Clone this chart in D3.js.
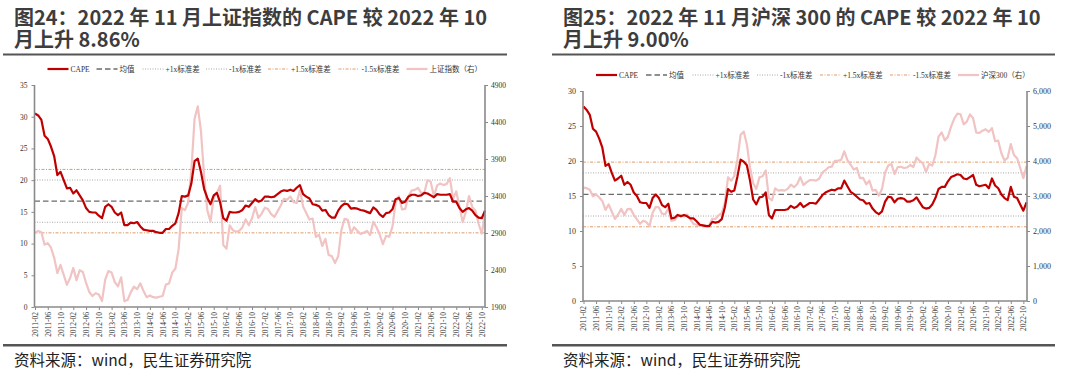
<!DOCTYPE html>
<html><head><meta charset="utf-8">
<script src="https://cdn.jsdelivr.net/npm/d3@7"></script>
<style>html,body{margin:0;padding:0;background:#fff;} svg{display:block;}</style>
</head><body>
<svg id="c" width="1080" height="376"></svg>
<script>
// ---------- DATA ----------
const months = [];
for (let y = 2011; y <= 2022; y++) for (let m = 1; m <= 12; m++) {
  if ((y === 2011 && m < 2) || (y === 2022 && m > 11)) continue;
  months.push(y + "-" + String(m).padStart(2, "0"));
}
const tickMonths = months.filter((d, i) => i % 4 === 0);

const capeSH = [30.5,30.2,29.5,27.0,26.5,25.3,23.8,20.8,21.3,20.0,18.7,18.8,
17.9,18.4,17.6,16.8,15.6,15.0,14.9,14.9,14.4,14.0,15.8,16.2,
15.8,14.9,14.5,14.9,12.9,12.9,13.3,13.2,13.4,12.7,12.2,12.1,
12.0,12.0,11.8,11.7,11.7,12.3,12.3,12.8,13.2,14.8,17.5,17.4,
17.6,19.5,23.0,23.4,21.3,18.6,17.2,16.2,17.6,18.0,16.5,14.0,
13.6,15.0,14.9,14.9,15.0,15.3,16.0,15.8,16.4,17.0,16.6,16.8,
17.4,17.4,17.3,17.4,17.8,18.2,18.4,18.3,18.5,18.3,18.8,19.2,
17.8,17.4,17.1,16.2,16.1,15.9,15.2,15.3,14.5,14.1,14.1,15.2,
15.9,16.3,16.2,15.5,15.6,15.5,15.3,15.2,15.0,14.8,15.7,15.3,
14.6,14.2,14.8,14.9,15.4,17.0,17.2,16.4,16.6,17.4,17.7,17.7,
17.5,17.6,18.0,17.9,17.6,17.3,17.8,17.7,17.7,17.7,17.8,16.6,
16.6,15.6,15.0,15.4,15.6,15.2,14.5,14.1,14.0,15.2];

const indexSH = [2905,2928,2911,2743,2762,2701,2568,2359,2468,2333,2199,
2292,2428,2263,2397,2373,2225,2103,2048,2086,2069,1980,2269,
2385,2366,2237,2178,2301,1979,1994,2098,2175,2141,2220,2116,
2033,2056,2033,2026,2039,2048,2202,2217,2364,2420,2683,3235,
3210,3310,3748,4442,4612,4277,3664,3206,3053,3383,3445,3539,
2738,2688,3004,2938,2917,2930,2979,3085,3005,3100,3250,3104,
3159,3242,3223,3155,3117,3192,3273,3361,3349,3393,3317,3307,
3481,3259,3169,3082,3095,2847,2876,2725,2821,2603,2588,2494,
2585,2941,3091,3078,2899,2979,2932,2886,2905,2929,2872,3050,
2977,2880,2750,2860,2852,2985,3310,3396,3218,3225,3392,3473,
3483,3509,3442,3447,3615,3591,3397,3544,3568,3547,3564,3640,
3361,3462,3253,3047,3186,3399,3253,3202,3024,2893,3151];

const capeHS = [27.8,27.3,26.6,24.6,24.2,23.2,21.9,19.3,19.6,18.3,17.2,17.5,
17.9,16.6,17.0,16.6,15.5,15.0,14.1,14.0,14.0,13.3,14.7,15.2,
14.7,13.7,13.4,13.9,11.8,11.9,12.3,12.1,12.3,12.1,11.8,11.8,
11.4,10.9,10.8,10.7,10.7,11.3,11.2,11.3,11.7,13.4,16.0,15.6,
15.8,17.8,20.2,19.9,19.4,17.2,14.5,13.8,14.8,14.9,15.5,12.3,
11.8,13.0,13.0,13.0,13.0,13.1,13.6,13.3,13.5,14.0,13.4,13.7,
14.0,14.0,13.9,14.5,15.1,15.5,15.7,15.9,15.8,16.1,16.1,17.2,
16.4,15.6,15.3,14.9,14.5,14.4,13.9,14.0,13.2,12.7,12.4,12.8,
14.2,14.9,14.8,14.1,14.6,14.7,14.6,14.2,14.2,14.4,14.8,14.1,
13.4,13.2,13.3,13.8,14.7,16.0,16.3,16.3,17.1,17.7,17.9,18.1,
18.0,17.5,17.4,17.7,18.0,16.6,16.4,16.5,16.6,16.1,17.5,16.5,
16.1,15.2,14.7,14.4,16.3,14.9,14.7,13.8,12.9,14.1];

const indexHS = [3239,3223,3180,2991,3044,2957,2857,2605,2757,2557,2346,
2464,2635,2454,2627,2632,2461,2333,2205,2293,2254,2139,2523,
2688,2674,2496,2478,2647,2287,2315,2410,2460,2410,2473,2331,
2202,2179,2146,2158,2157,2165,2351,2338,2450,2508,2808,3533,
3435,3572,4051,4749,4840,4473,3816,3366,3202,3534,3566,3731,
2946,2877,3218,3156,3170,3154,3203,3327,3253,3336,3538,3311,
3387,3453,3456,3439,3493,3666,3737,3822,3837,4006,4006,4031,
4275,4023,3899,3756,3802,3510,3517,3335,3438,3154,3173,3011,
3202,3670,3873,3913,3630,3826,3836,3799,3815,3886,3829,4097,
4003,3940,3686,3913,3868,4164,4695,4816,4587,4695,4980,5212,
5352,5336,5049,5124,5332,5224,4812,4806,4866,4908,4832,4940,
4564,4581,4223,4016,4091,4485,4170,4078,3805,3508,3854];

// mean, +1x, -1x, +1.5x, -1.5x
const refSH = [16.69, 20.02, 13.36, 21.69, 11.69];
const refHS = [15.22, 18.30, 12.14, 19.84, 10.60];

const leftTicksSH = [0,5,10,15,20,25,30,35];
const rightTicksSH = [1900,2400,2900,3400,3900,4400,4900];
const leftTicksHS = [0,5,10,15,20,25,30];
const rightTicksHS = [0,1000,2000,3000,4000,5000,6000];

const legendSH = ["CAPE","均值","+1x标准差","-1x标准差","+1.5x标准差","-1.5x标准差","上证指数（右）"];
const legendHS = ["CAPE","均值","+1x标准差","-1x标准差","+1.5x标准差","-1.5x标准差","沪深300（右）"];

const titleSH = ["图24：2022 年 11 月上证指数的 CAPE 较 2022 年 10", "月上升 8.86%"];
const titleHS = ["图25：2022 年 11 月沪深 300 的 CAPE 较 2022 年 10", "月上升 9.00%"];
const sourceText = "资料来源：wind，民生证券研究院";

// ---------- STYLES ----------
const RED = "#c00000", PINK = "#f1c3c3", MEAN = "#6b6b6b", DOT = "#a8a8a8", ORANGE = "#e09a66";
const refStyles = [
  {stroke: MEAN, w: 1.3, dash: "5.5,3"},
  {stroke: DOT, w: 1, dash: "1,1.5"},
  {stroke: DOT, w: 1, dash: "1,1.5"},
  {stroke: ORANGE, w: 1, dash: "3,1.5,1,1.5"},
  {stroke: ORANGE, w: 1, dash: "3,1.5,1,1.5"}
];
const legendStyles = [
  {stroke: RED, w: 2.2, dash: null},
  refStyles[0], refStyles[1], refStyles[2], refStyles[3], refStyles[4],
  {stroke: PINK, w: 2.2, dash: null}
];

const svg = d3.select("#c");
const SERIF = "'Liberation Serif','Times New Roman','Noto Sans CJK SC',serif";
const CJK = "'Noto Sans CJK SC','Noto Sans',sans-serif";

function drawPanel(cfg) {
  const g = svg.append("g");
  // title (two separate lines)
  cfg.title.forEach((s, i) => g.append("text").attr("x", cfg.titleX).attr("y", 25 + i * 21.5)
    .attr("font-family", CJK).attr("font-weight", "bold")
    .attr("font-size", 20).attr("fill", "#3d3d3d").text(s));
  g.append("line").attr("x1", cfg.ruleX0).attr("x2", cfg.ruleX1).attr("y1", 54.5).attr("y2", 54.5)
    .attr("stroke", "#555").attr("stroke-width", 2);
  g.append("line").attr("x1", cfg.ruleX0).attr("x2", cfg.ruleX1).attr("y1", 345.3).attr("y2", 345.3)
    .attr("stroke", "#555").attr("stroke-width", 2.5);
  g.append("text").attr("x", cfg.titleX).attr("y", 366).attr("font-family", CJK)
    .attr("font-size", 15.5).attr("fill", "#222").text(sourceText);

  const x = d3.scaleLinear().domain([0, months.length - 1]).range([cfg.x0, cfg.x1]);
  const yL = d3.scaleLinear().domain(cfg.leftDomain).range([cfg.yBot, cfg.yTop]);
  const yR = d3.scaleLinear().domain(cfg.rightDomain).range([cfg.yBot, cfg.yTop]);

  // reference lines
  cfg.ref.forEach((v, i) => {
    const s = refStyles[i];
    g.append("line").attr("x1", cfg.axL).attr("x2", cfg.axR).attr("y1", yL(v)).attr("y2", yL(v))
      .attr("stroke", s.stroke).attr("stroke-width", s.w).attr("stroke-dasharray", s.dash);
  });

  // index line (right axis)
  g.append("path").datum(cfg.index).attr("fill", "none").attr("stroke", PINK)
    .attr("stroke-width", 2.2).attr("stroke-linejoin", "round")
    .attr("d", d3.line().x((d, i) => x(i)).y(d => yR(d)));
  // CAPE
  g.append("path").datum(cfg.cape).attr("fill", "none").attr("stroke", RED)
    .attr("stroke-width", 2.2).attr("stroke-linejoin", "round")
    .attr("d", d3.line().x((d, i) => x(i)).y(d => yL(d)));

  // axes
  const axisColor = "#8a8a8a";
  const la = g.append("g").attr("transform", `translate(${cfg.axL},0)`)
    .call(d3.axisLeft(yL).tickValues(cfg.leftTicks).tickSize(3).tickPadding(4).tickFormat(d3.format("d")));
  const ra = g.append("g").attr("transform", `translate(${cfg.axR},0)`)
    .call(d3.axisRight(yR).tickValues(cfg.rightTicks).tickSize(3).tickPadding(3).tickFormat(cfg.rightFormat));
  const xTickIdx = tickMonths.map(m => months.indexOf(m));
  const ba = g.append("g").attr("transform", `translate(0,${cfg.yBot})`)
    .call(d3.axisBottom(x).tickValues(xTickIdx).tickSize(3).tickFormat(i => months[i]));
  [la, ra, ba].forEach(a => {
    a.attr("fill", "#333").attr("color", "#8a8a8a");
    a.select(".domain").attr("stroke", axisColor).attr("stroke-width", 1.6);
    a.selectAll(".tick line").attr("stroke", axisColor).attr("stroke-width", 1);
    a.selectAll("text").attr("font-family", SERIF).attr("fill", "#333").attr("stroke", "none");
  });
  la.select(".domain").attr("d", `M0,${cfg.yBot}V${cfg.yTop}`);
  ra.select(".domain").attr("d", `M0,${cfg.yBot}V${cfg.yTop}`);
  ba.select(".domain").attr("d", `M${cfg.axL},0H${cfg.axR}`);
  la.selectAll("text").attr("font-size", cfg.yFont);
  ra.selectAll("text").attr("font-size", cfg.yFont);
  ba.selectAll(".tick text").attr("font-size", cfg.xFont)
    .attr("transform", "rotate(-90)").attr("text-anchor", "end")
    .attr("x", -5).attr("y", 0).attr("dy", "0.33em");

  // legend
  cfg.legend.forEach((lab, i) => {
    const lx = cfg.legendX[i], s = legendStyles[i];
    g.append("line").attr("x1", lx).attr("x2", lx + 21).attr("y1", cfg.legendY).attr("y2", cfg.legendY)
      .attr("stroke", s.stroke).attr("stroke-width", s.w).attr("stroke-dasharray", s.dash);
    g.append("text").attr("x", lx + 23).attr("y", cfg.legendY).attr("dy", "0.35em")
      .attr("font-family", SERIF).attr("font-size", 7.5).attr("fill", "#333").text(lab);
  });
}

drawPanel({
  title: titleSH, titleX: 14, ruleX0: 3, ruleX1: 507,
  x0: 35, x1: 485, axL: 34.5, axR: 485, yTop: 85, yBot: 307,
  leftDomain: [0, 35], rightDomain: [1900, 4900],
  leftTicks: leftTicksSH, rightTicks: rightTicksSH, rightFormat: d3.format("d"),
  cape: capeSH, index: indexSH, ref: refSH,
  legend: legendSH, legendY: 69, legendX: [47.5, 96.5, 142.5, 206, 268, 338.5, 406.5],
  yFont: 7.5, xFont: 7.5
});
drawPanel({
  title: titleHS, titleX: 563, ruleX0: 552, ruleX1: 1055,
  x0: 583.5, x1: 1026.5, axL: 583, axR: 1027, yTop: 91, yBot: 301,
  leftDomain: [0, 30], rightDomain: [0, 6000],
  leftTicks: leftTicksHS, rightTicks: rightTicksHS, rightFormat: d3.format(","),
  cape: capeHS, index: indexHS, ref: refHS,
  legend: legendHS, legendY: 75, legendX: [596, 646, 692.5, 757, 820, 890, 958],
  yFont: 8, xFont: 7.5
});
</script>
</body></html>
